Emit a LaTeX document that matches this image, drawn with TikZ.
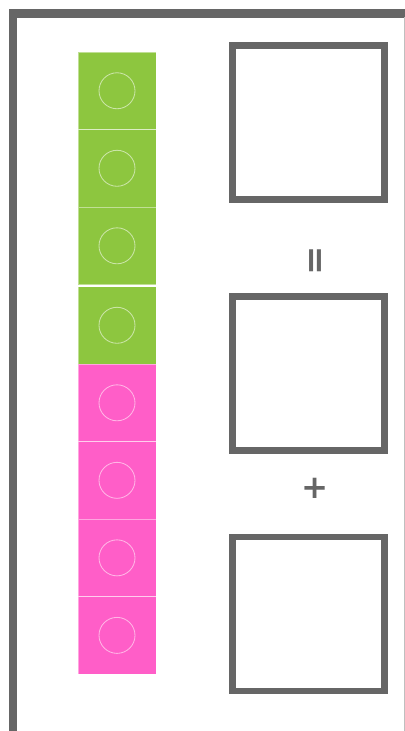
\documentclass[tikz,border=0pt]{standalone}
\usepackage{fontspec}
\usepackage{tikz}
\usetikzlibrary{positioning}
\newfontfamily\signfont{DejaVu Sans}
\definecolor{framegray}{HTML}{666666}
\definecolor{cubegreen}{HTML}{8DC63F}
\definecolor{cubepink}{HTML}{FF5EC8}

\begin{document}
\begin{tikzpicture}[x=0.025cm, y=-0.025cm,
	cube/.style={rectangle, minimum width=1.95cm, minimum height=1.9375cm, inner sep=0pt, outer sep=0pt, draw=white, draw opacity=0.45, line width=0.4pt},
	answerbox/.style={rectangle, draw=framegray, line width=4.8pt, minimum width=3.8cm, minimum height=3.85cm, inner sep=0pt},
	ring/.style={draw=white, draw opacity=0.55, line width=0.6pt},
	sign/.style={text=framegray, inner sep=0pt}]
	\useasboundingbox (0,0) rectangle (405,731);
	% frame
	\draw[framegray, line width=5.7pt] (13,731) -- (13,13.5) -- (405,13.5);
	\draw[black!25, line width=0.6pt] (404,17) -- (404,731);
	% stacked cubes
	\node[cube, fill=cubegreen, anchor=north] (g1) at (117,52) {};
	\node[cube, fill=cubegreen, below=0pt of g1] (g2) {};
	\node[cube, fill=cubegreen, below=0pt of g2] (g3) {};
	\node[cube, fill=cubegreen, below=1.4pt of g3] (g4) {};
	\node[cube, fill=cubepink, below=0pt of g4] (p1) {};
	\node[cube, fill=cubepink, below=0pt of p1] (p2) {};
	\node[cube, fill=cubepink, below=0pt of p2] (p3) {};
	\node[cube, fill=cubepink, below=0pt of p3] (p4) {};
	\foreach \c in {g1,g2,g3,g4,p1,p2,p3,p4}
		\draw[ring] (\c.center) circle[radius=18];
	% answer boxes
	\node[answerbox] (whole) at (308.5,122.7) {};
	\node[answerbox] (partA) at (308.5,373.5) {};
	\node[answerbox] (partB) at (308.5,614) {};
	\node[sign, rotate=90, font=\signfont\bfseries\fontsize{25}{25}\selectfont] (eq) at (318.5,260.5) {=};
	\node[sign, font=\signfont\bfseries\fontsize{23}{23}\selectfont] (plus) at (315.3,488) {+};
\end{tikzpicture}
\end{document}
